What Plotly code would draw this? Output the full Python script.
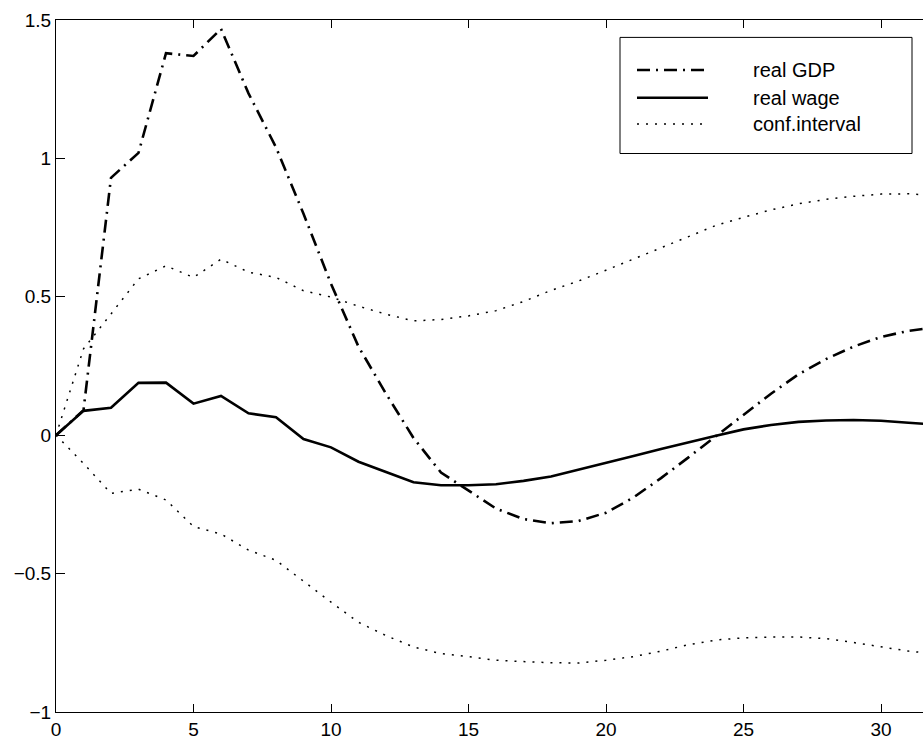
import plotly.graph_objects as go

# Impulse responses over horizon 0..32
horizon = list(range(33))

real_gdp = [0.0, 0.09, 0.93, 1.02, 1.38, 1.37, 1.468, 1.235, 1.04, 0.80,
            0.547, 0.32, 0.15, -0.01, -0.135, -0.20, -0.265, -0.303, -0.318,
            -0.31, -0.28, -0.225, -0.155, -0.08, -0.003, 0.075, 0.15, 0.22,
            0.275, 0.32, 0.355, 0.377, 0.39]

real_wage = [0.0, 0.088, 0.099, 0.189, 0.19, 0.114, 0.142, 0.079, 0.065,
             -0.014, -0.044, -0.096, -0.133, -0.17, -0.181, -0.181, -0.177,
             -0.165, -0.149, -0.125, -0.10, -0.075, -0.05, -0.025, -0.002,
             0.021, 0.037, 0.048, 0.053, 0.055, 0.052, 0.045, 0.038]

conf_upper = [0.0, 0.312, 0.438, 0.565, 0.612, 0.57, 0.636, 0.589, 0.57,
              0.522, 0.499, 0.466, 0.437, 0.413, 0.418, 0.431, 0.45, 0.483,
              0.523, 0.557, 0.596, 0.636, 0.677, 0.717, 0.758, 0.787, 0.814,
              0.836, 0.852, 0.863, 0.871, 0.872, 0.866]

conf_lower = [0.0, -0.102, -0.21, -0.195, -0.234, -0.33, -0.357, -0.415,
              -0.452, -0.528, -0.603, -0.676, -0.724, -0.765, -0.789, -0.80,
              -0.813, -0.818, -0.822, -0.823, -0.813, -0.80, -0.78, -0.757,
              -0.74, -0.732, -0.729, -0.729, -0.735, -0.749, -0.765, -0.78,
              -0.79]

legend_names = ["real GDP", "real wage", "conf.interval"]

FONT = "Liberation Sans, Arial, Helvetica, sans-serif"
W, H = 923, 740
ML, MR, MT, MB = 56, 0, 20, 28
PW, PH = W - ML - MR, H - MT - MB

GDP_DASH = "13px,6px,2px,6px"
CONF_DASH = "2px,7px"
THICK = 2.6
THIN = 1.5

fig = go.Figure()
fig.add_trace(go.Scatter(x=horizon, y=conf_upper, mode="lines",
                         line=dict(color="black", width=THIN, dash=CONF_DASH),
                         showlegend=False))
fig.add_trace(go.Scatter(x=horizon, y=conf_lower, mode="lines",
                         line=dict(color="black", width=THIN, dash=CONF_DASH),
                         showlegend=False))
fig.add_trace(go.Scatter(x=horizon, y=real_wage, mode="lines",
                         line=dict(color="black", width=THICK),
                         showlegend=False))
fig.add_trace(go.Scatter(x=horizon, y=real_gdp, mode="lines",
                         line=dict(color="black", width=THICK, dash=GDP_DASH),
                         showlegend=False))


def px_x(p):
    return (p - ML) / PW


def px_y(p):
    return (H - MB - p) / PH


# Boxed legend in the upper right corner
shapes = [dict(type="rect", xref="paper", yref="paper",
               x0=px_x(620), x1=px_x(912), y0=px_y(153.5), y1=px_y(37.4),
               line=dict(color="black", width=1), fillcolor="white",
               layer="above")]
annotations = []
entry_y = [70, 97.7, 124]
entry_style = [dict(width=THICK, dash=GDP_DASH), dict(width=THICK, dash="solid"),
               dict(width=THIN, dash=CONF_DASH)]
for name, ey, st in zip(legend_names, entry_y, entry_style):
    shapes.append(dict(type="line", xref="paper", yref="paper",
                       x0=px_x(637), x1=px_x(708), y0=px_y(ey), y1=px_y(ey),
                       line=dict(color="black", **st), layer="above"))
    annotations.append(dict(xref="paper", yref="paper", x=px_x(750.5),
                            y=px_y(ey), text=name, showarrow=False,
                            xanchor="left", yanchor="middle",
                            font=dict(family=FONT, size=20, color="black")))

axis_common = dict(showgrid=False, zeroline=False, showline=True,
                   linecolor="black", linewidth=1, ticks="inside",
                   tickcolor="black", tickwidth=1, automargin=False,
                   tickfont=dict(family=FONT, size=19, color="black"))

fig.update_layout(
    width=W, height=H,
    margin=dict(l=ML, r=MR, t=MT, b=MB, pad=0, autoexpand=False),
    paper_bgcolor="white", plot_bgcolor="white",
    showlegend=False,
    xaxis=dict(range=[0, PW / 27.5], tickmode="linear", tick0=0, dtick=5,
               ticklen=8, mirror="ticks", **axis_common),
    yaxis=dict(range=[-1, 1.5], tickmode="linear", tick0=-1, dtick=0.5,
               ticklen=9, **axis_common),
    shapes=shapes,
    annotations=annotations,
)

fig.write_html("out.html")
